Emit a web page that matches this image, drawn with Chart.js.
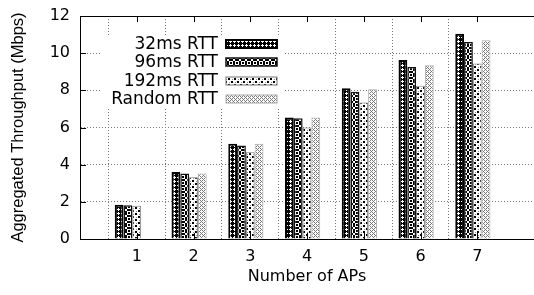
<!DOCTYPE html>
<html>
<head>
<meta charset="utf-8">
<script src="https://cdn.jsdelivr.net/npm/chart.js@4"></script>
<style>
  html, body { margin: 0; padding: 0; background: #ffffff; }
  #wrap { width: 534px; height: 295px; position: relative; }
</style>
</head>
<body>
<div id="wrap"><canvas id="chart"></canvas></div>
<script>
  // values
  const apCounts = ["1", "2", "3", "4", "5", "6", "7"];
  const rtt32 = [1.84, 3.6, 5.13, 6.54, 8.11, 9.63, 11.05];
  const rtt96 = [1.82, 3.52, 5.03, 6.5, 7.93, 9.26, 10.6];
  const rtt192 = [1.79, 3.32, 4.67, 6.0, 7.34, 8.24, 9.44];
  const rttRandom = [null, 3.52, 5.13, 6.54, 8.06, 9.35, 10.7];
  const seriesNames = ["32ms RTT", "96ms RTT", "192ms RTT", "Random RTT"];
  const yTicks = [0, 2, 4, 6, 8, 10, 12];

  // the original is a little wider than tall, DejaVu matches that spread
  const FONT = "'DejaVu Sans', sans-serif";
  const FONT_V = "'Liberation Sans', Arial, sans-serif";

  // pixel tiles: '#' ink, '+' grey ink, '.' paper
  function pixelPattern(rows, grey = "#888") {
    const c = document.createElement("canvas");
    c.width = rows[0].length;
    c.height = rows.length;
    const g = c.getContext("2d");
    g.fillStyle = "#fff";
    g.fillRect(0, 0, c.width, c.height);
    rows.forEach((row, y) => {
      [...row].forEach((ch, x) => {
        if (ch === "#") { g.fillStyle = "#000"; g.fillRect(x, y, 1, 1); }
        if (ch === "+") { g.fillStyle = grey; g.fillRect(x, y, 1, 1); }
      });
    });
    return g.createPattern(c, "repeat");
  }

  // dark net with small white diamonds
  const patCross = pixelPattern([
    "##.#",
    "#...",
    "##.#",
    "####"
  ]);
  // black with white rings
  const patRing = pixelPattern([
    "#....#",
    ".####.",
    ".#..#.",
    ".#..#.",
    ".####.",
    "#....#"
  ].map((r) => [...r].map((ch) => (ch === "#" ? "." : "#")).join("")));
  // sparse black specks
  const patSpeck = pixelPattern([
    "##....",
    "##..+.",
    "......",
    "...##.",
    ".+.##.",
    "......"
  ]);
  // fine grey stipple
  const patDots = pixelPattern([
    "+.+.",
    ".+..",
    "+.+.",
    "...+"
  ], "#7a7a7a");

  const fills = [patCross, patRing, patSpeck, patDots];
  const edges = ["#000000", "#111111", "#777777", "#aaaaaa"];
  const edgeWidths = [2, 1.5, 1, 1];

  // x runs 0..8 like the original plot, bars only at 1..7
  const labels = ["0", ...apCounts, "8"];
  const pad = (arr) => [null, ...arr, null];

  const datasets = [rtt32, rtt96, rtt192, rttRandom].map((values, i) => ({
    label: seriesNames[i],
    data: pad(values),
    backgroundColor: fills[i],
    borderColor: edges[i],
    borderWidth: edgeWidths[i],
    borderSkipped: "bottom"
  }));
  // empty fifth slot keeps each group a little left of its tick, as gnuplot does
  datasets.push({ label: "", data: pad(apCounts.map(() => null)), backgroundColor: "transparent" });

  const frame = {
    id: "frame",
    afterDraw(chart) {
      const { ctx, chartArea: a, scales } = chart;
      ctx.save();
      ctx.strokeStyle = "#000";
      ctx.lineWidth = 1;
      ctx.beginPath();
      ctx.moveTo(a.left, Math.round(a.top) + 0.5);
      ctx.lineTo(a.right, Math.round(a.top) + 0.5);
      // inward tick marks
      yTicks.slice(1, -1).forEach((v) => {
        const y = Math.round(scales.y.getPixelForValue(v)) + 0.5;
        ctx.moveTo(a.left, y);
        ctx.lineTo(a.left + 6, y);
      });
      apCounts.forEach((lab) => {
        const x = Math.round(scales.x.getPixelForValue(labels.indexOf(lab))) + 0.5;
        ctx.moveTo(x, a.bottom);
        ctx.lineTo(x, a.bottom - 6);
        ctx.moveTo(x, a.top);
        ctx.lineTo(x, a.top + 6);
      });
      ctx.stroke();

      // key: text right-aligned, sample box on the right, on an opaque panel
      ctx.fillStyle = "#fff";
      ctx.fillRect(102, 35, 183, 72);
      ctx.font = "17px " + FONT;
      ctx.textAlign = "right";
      ctx.textBaseline = "middle";
      seriesNames.forEach((name, i) => {
        const y = Math.round(43.5 + i * 18.5);
        ctx.fillStyle = "#000";
        ctx.fillText(name, 218, y + 1);
        ctx.fillStyle = fills[i];
        ctx.fillRect(226, y - 4, 51, 8);
        ctx.strokeStyle = edges[i];
        ctx.lineWidth = edgeWidths[i];
        ctx.strokeRect(226, y - 4, 51, 8);
      });
      ctx.restore();
    }
  };

  new Chart(document.getElementById("chart"), {
    type: "bar",
    data: { labels, datasets },
    plugins: [frame],
    options: {
      responsive: true,
      maintainAspectRatio: false,
      animation: false,
      layout: { padding: { top: 16, right: 0, left: 0, bottom: 0 } },
      datasets: { bar: { categoryPercentage: 0.775, barPercentage: 1 } },
      plugins: { legend: { display: false }, tooltip: { enabled: false } },
      scales: {
        x: {
          offset: false,
          afterFit: (s) => {
            s.height = 56;
            s.paddingLeft = 0;
            s.paddingRight = 0;
          },
          border: { display: true, color: "#000", width: 1, dash: [1, 2] },
          grid: {
            drawTicks: false,
            color: (c) => (c.index === 0 || c.index === labels.length - 1 ? "transparent" : "#777"),
            lineWidth: 1
          },
          ticks: {
            autoSkip: false,
            maxRotation: 0,
            padding: 8,
            color: "#000",
            font: { family: FONT, size: 16 },
            callback: (v, i) => (i === 0 || i === labels.length - 1 ? "" : labels[i])
          },
          title: {
            display: true,
            text: "Number of APs",
            color: "#000",
            font: { family: FONT, size: 16 },
            padding: { top: 0, bottom: 9 }
          }
        },
        y: {
          min: 0,
          max: 12,
          afterFit: (s) => {
            s.width = 80;
            s.paddingTop = 0;
            s.paddingBottom = 0;
          },
          afterBuildTicks: (s) => { s.ticks = yTicks.map((v) => ({ value: v })); },
          border: { display: true, color: "#000", width: 1, dash: [1, 2] },
          grid: {
            drawTicks: false,
            color: (c) => (c.tick && (c.tick.value === 0 || c.tick.value === 12) ? "transparent" : "#777"),
            lineWidth: 1
          },
          ticks: {
            padding: 10,
            color: "#000",
            font: { family: FONT, size: 16 }
          },
          title: {
            display: true,
            text: "Aggregated Throughput (Mbps)",
            color: "#000",
            font: { family: FONT_V, size: 16.5 },
            padding: { top: 9, bottom: 0 }
          }
        }
      }
    }
  });
</script>
</body>
</html>
